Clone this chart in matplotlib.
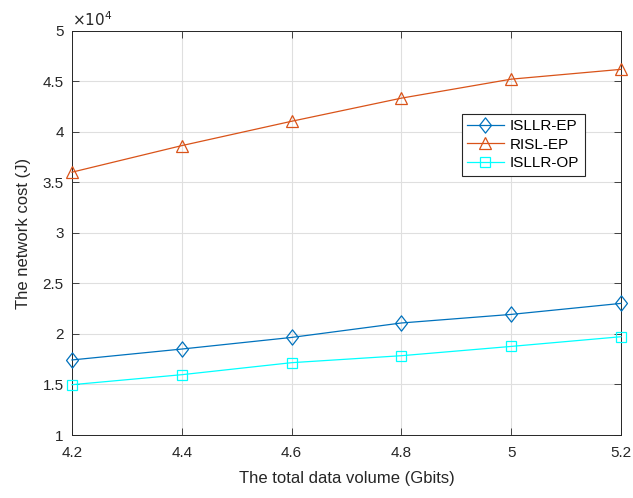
import matplotlib
matplotlib.use("Agg")
import matplotlib.pyplot as plt
from matplotlib.path import Path

plt.rcParams['font.family'] = ['Liberation Sans', 'DejaVu Sans']

data_volume = [4.2, 4.4, 4.6, 4.8, 5.0, 5.2]
isllr_ep = [17430, 18510, 19660, 21090, 21940, 23030]
risl_ep = [36020, 38650, 41060, 43350, 45230, 46200]
isllr_op = [14980, 15970, 17160, 17850, 18770, 19730]
x_ticks = [4.2, 4.4, 4.6, 4.8, 5.0, 5.2]
x_tick_labels = ['4.2', '4.4', '4.6', '4.8', '5', '5.2']
y_ticks = [10000, 15000, 20000, 25000, 30000, 35000, 40000, 45000, 50000]
y_tick_labels = ['1', '1.5', '2', '2.5', '3', '3.5', '4', '4.5', '5']

diamond = Path([(0, -1), (0.78, 0), (0, 1), (-0.78, 0), (0, -1)],
               [Path.MOVETO, Path.LINETO, Path.LINETO, Path.LINETO, Path.CLOSEPOLY])

fig = plt.figure(figsize=(6.33, 4.98), dpi=100)
ax = fig.add_axes([0.1137, 0.1265, 0.8673, 0.8113])

ax.plot(data_volume, isllr_ep, color='#0072BD', marker=diamond, markersize=11,
        markerfacecolor='none', markeredgewidth=0.9, linewidth=0.9,
        label='ISLLR-EP', clip_on=False, zorder=3)
ax.plot(data_volume, risl_ep, color='#D95319', marker='^', markersize=9,
        markerfacecolor='none', markeredgewidth=0.9, linewidth=0.9,
        label='RISL-EP', clip_on=False, zorder=3)
ax.plot(data_volume, isllr_op, color='#00FFFF', marker='s', markersize=7,
        markerfacecolor='none', markeredgewidth=0.9, linewidth=0.9,
        label='ISLLR-OP', clip_on=False, zorder=3)

ax.set_xlim(4.2, 5.2)
ax.set_ylim(10000, 50000)
ax.set_xticks(x_ticks)
ax.set_xticklabels(x_tick_labels)
ax.set_yticks(y_ticks)
ax.set_yticklabels(y_tick_labels)
ax.tick_params(direction='in', top=True, right=True, labelsize=11, length=5,
               width=0.6, colors='#262626')
ax.tick_params(axis='x', pad=8)
ax.tick_params(axis='y', pad=6)
ax.grid(True, color='#DFDFDF', linewidth=0.8)
ax.set_axisbelow(True)
for s in ax.spines.values():
    s.set_color('#262626')
    s.set_linewidth(0.7)

ax.set_xlabel('The total data volume (Gbits)', fontsize=12, color='#262626', labelpad=8)
ax.set_ylabel('The network cost (J)', fontsize=12, color='#262626', labelpad=8)
ax.text(0.0, 1.005, r'$\times10^{4}$', transform=ax.transAxes, fontsize=11,
        color='#262626', ha='left', va='bottom')

leg = ax.legend(loc='upper left', bbox_to_anchor=(0.71, 0.795), fontsize=11,
                fancybox=False, framealpha=1, edgecolor='#262626',
                handlelength=2.4, handletextpad=0.4, borderpad=0.35,
                labelspacing=0.3, borderaxespad=0)
leg.get_frame().set_linewidth(0.8)
for t in leg.get_texts():
    t.set_color('#000000')

fig.savefig('out.png', dpi=100)
